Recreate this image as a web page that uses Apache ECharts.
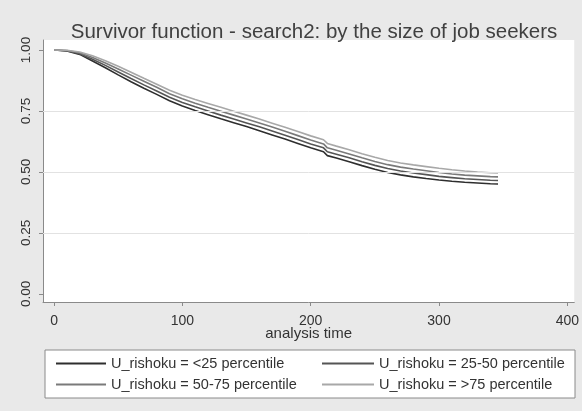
<!DOCTYPE html>
<html>
<head>
<meta charset="utf-8">
<script src="https://cdn.jsdelivr.net/npm/echarts@6/dist/echarts.min.js"></script>
<style>
html,body{margin:0;padding:0;background:#e9e9e9;}
#c{width:582px;height:411px;}
</style>
</head>
<body>
<div id="c"></div>
<script>
var times = [0,10,20,30,40,50,60,70,80,90,100,110,120,130,140,150,160,170,180,190,200,210,213,220,230,240,250,260,270,280,290,300,310,320,330,340,346];
var sLt25 = [1.0,0.996,0.982,0.955,0.927,0.898,0.87,0.843,0.818,0.792,0.77,0.752,0.735,0.718,0.702,0.686,0.669,0.652,0.635,0.617,0.599,0.583,0.567,0.557,0.542,0.526,0.511,0.498,0.488,0.48,0.473,0.467,0.462,0.458,0.455,0.452,0.451];
var s25_50 = [1.0,0.997,0.985,0.962,0.937,0.91,0.883,0.857,0.832,0.806,0.785,0.767,0.75,0.733,0.717,0.701,0.685,0.668,0.651,0.633,0.615,0.599,0.583,0.573,0.558,0.542,0.527,0.514,0.504,0.496,0.489,0.482,0.477,0.472,0.469,0.466,0.465];
var s50_75 = [1.0,0.998,0.989,0.969,0.947,0.922,0.897,0.872,0.847,0.821,0.8,0.782,0.765,0.749,0.733,0.717,0.701,0.684,0.667,0.649,0.631,0.615,0.599,0.589,0.574,0.558,0.543,0.53,0.52,0.512,0.505,0.498,0.492,0.487,0.484,0.481,0.48];
var sGt75 = [1.0,0.999,0.992,0.976,0.956,0.933,0.909,0.884,0.86,0.835,0.815,0.797,0.781,0.765,0.749,0.733,0.717,0.7,0.683,0.666,0.648,0.632,0.617,0.606,0.591,0.575,0.56,0.547,0.537,0.529,0.522,0.515,0.509,0.504,0.5,0.497,0.496];
var seriesNames = ['U_rishoku = <25 percentile','U_rishoku = 25-50 percentile','U_rishoku = 50-75 percentile','U_rishoku = >75 percentile'];
var xTicks = [0,100,200,300,400];
var yTicks = [0,0.25,0.5,0.75,1];
var gridVals = [0.25,0.5,0.75];

function pairs(v){ return times.map(function(t,i){return [t,v[i]];}); }
var colors = ['#2e2e2e','#555555','#7a7a7a','#a8a8a8'];
var vals = [sLt25,s25_50,s50_75,sGt75];

var series = [{
  type:'line', data:[], z:1, silent:true,
  markLine:{silent:true, symbol:'none', label:{show:false},
    lineStyle:{color:'#e2e2e2', type:'solid', width:1},
    data: gridVals.map(function(v){return {yAxis:v};})}
}];
vals.forEach(function(v,i){
  series.push({name:seriesNames[i], type:'line', data:pairs(v), showSymbol:false, z:3,
    lineStyle:{color:colors[i], width:1.6}, itemStyle:{color:colors[i]}});
});

var chart = echarts.init(document.getElementById('c'));
chart.setOption({
  backgroundColor:'#e9e9e9',
  animation:false,
  title:{text:'Survivor function - search2: by the size of job seekers', left:309, top:17, textAlign:'center',
    textStyle:{fontFamily:'Liberation Sans', fontSize:20.5, fontWeight:'normal', color:'#404040'}},
  grid:{left:43, right:7, top:40, bottom:109, show:true, backgroundColor:'#ffffff', borderWidth:0},
  xAxis:{type:'value', min:-8.6, max:405.4,
    name:'analysis time', nameLocation:'middle', nameGap:24, nameMoveOverlap:false,
    nameTextStyle:{fontFamily:'Liberation Sans', fontSize:15, color:'#333'},
    axisLine:{show:true, onZero:false, lineStyle:{color:'#8a8a8a', width:1}},
    axisTick:{show:true, length:4, customValues:xTicks, lineStyle:{color:'#8a8a8a'}},
    axisLabel:{customValues:xTicks, margin:12, fontFamily:'Liberation Sans', fontSize:14, color:'#333'},
    splitLine:{show:false}},
  yAxis:{type:'value', min:-0.033, max:1.041,
    axisLine:{show:true, onZero:false, lineStyle:{color:'#8a8a8a', width:1}},
    axisTick:{show:true, length:4, customValues:yTicks, lineStyle:{color:'#8a8a8a'}},
    axisLabel:{customValues:yTicks, rotate:90, margin:10, fontFamily:'Liberation Sans', fontSize:13.5, color:'#333',
      formatter:function(v){return v.toFixed(2);}},
    splitLine:{show:false}},
  graphic:[{type:'rect', shape:{x:45, y:350, width:530, height:48}, style:{fill:'#ffffff', stroke:'#8a8a8a', lineWidth:1}, z:0}],
  legend:[
    {data:[seriesNames[0],seriesNames[2]], orient:'vertical', left:56, top:356, padding:0, icon:'rect', itemWidth:50, itemHeight:2, itemGap:6,
      textStyle:{fontFamily:'Liberation Sans', fontSize:14.5, color:'#333'}, z:5},
    {data:[seriesNames[1],seriesNames[3]], orient:'vertical', left:322, top:356, padding:0, icon:'rect', itemWidth:52, itemHeight:2, itemGap:6,
      textStyle:{fontFamily:'Liberation Sans', fontSize:14.5, color:'#333'}, z:5}
  ],
  series:series
});
</script>
</body>
</html>
